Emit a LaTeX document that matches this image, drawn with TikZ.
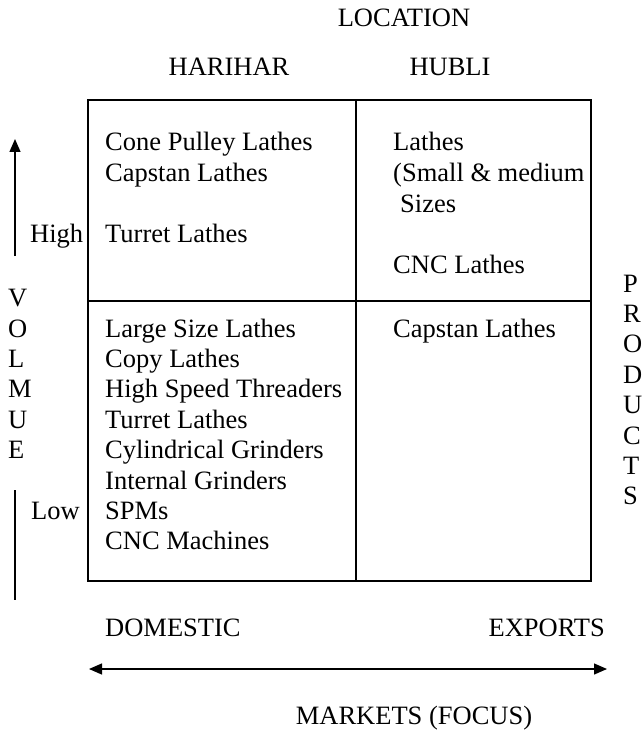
\documentclass[tikz,border=0pt]{standalone}
\usepackage{fontspec}
\setmainfont{Liberation Serif}
\usetikzlibrary{arrows.meta}
\begin{document}
\begin{tikzpicture}[x=1pt,y=-1pt,
  txt/.style={anchor=base west,inner sep=0pt,font=\fontsize{26.5}{30.4}\selectfont},
  ctxt/.style={anchor=base,inner sep=0pt,font=\fontsize{26.5}{30.4}\selectfont},
  rtxt/.style={anchor=base east,inner sep=0pt,font=\fontsize{26.5}{30.4}\selectfont},
  frame/.style={line width=1.6pt},
  axis/.style={line width=1.3pt},
  tip/.style={-{Triangle[length=13pt,width=11pt]}}]
\useasboundingbox (0,0) rectangle (641,730);
% matrix frame
\coordinate (tl) at (88,100);
\coordinate (br) at (591,581);
\draw[frame] (tl) rectangle (br);
\coordinate (vt) at (356,100);
\coordinate (vb) at (356,581);
\coordinate (hl) at (88,301);
\coordinate (hr) at (591,301);
\draw[frame] (vt) -- (vb);
\draw[frame] (hl) -- (hr);
% headings
\node[ctxt] (loc) at (404,27) {LOCATION};
\node[ctxt] (har) at (229,76) {HARIHAR};
\node[ctxt] (hub) at (450,76) {HUBLI};
% upper left
\node[txt] (ul1) at (105,151) {Cone Pulley Lathes};
\node[txt] (ul2) at (105,181.5) {Capstan Lathes};
\node[txt] (ul3) at (105,242.5) {Turret Lathes};
% upper right
\node[txt] (ur1) at (393,151) {Lathes};
\node[txt] (ur2) at (393,181.5) {(Small \& medium};
\node[txt] (ur3) at (400,212) {Sizes};
\node[txt] (ur4) at (393,273) {CNC Lathes};
% lower left
\foreach \t [count=\i from 0] in {Large Size Lathes,Copy Lathes,High Speed Threaders,Turret Lathes,Cylindrical Grinders,Internal Grinders,SPMs,CNC Machines}
  \node[txt] (ll\i) at (105,337+30.4*\i) {\t};
% lower right
\node[txt] (lr1) at (393,337) {Capstan Lathes};
% volume axis
\foreach \t [count=\i from 0] in {V,O,L,M,U,E}
  \node[txt] (vol\i) at (8,306.6+30.4*\i) {\t};
\node[txt] (high) at (30,242.5) {High};
\node[txt] (low) at (31,519.4) {Low};
\coordinate (upb) at (15,256);
\coordinate (upt) at (15,139);
\draw[axis,tip] (upb) -- (upt);
\coordinate (lowt) at (15,490);
\coordinate (lowb) at (15,600);
\draw[axis] (lowt) -- (lowb);
% products
\foreach \t [count=\i from 0] in {P,R,O,D,U,C,T,S}
  \node[txt] (prod\i) at (623,292+30.4*\i) {\t};
% markets
\node[txt] (dom) at (105,636) {DOMESTIC};
\node[rtxt] (exp) at (605,636) {EXPORTS};
\coordinate (ml) at (89,669);
\coordinate (mr) at (607,669);
\draw[axis,{Triangle[length=13pt,width=11pt]}-{Triangle[length=13pt,width=11pt]}] (ml) -- (mr);
\node[ctxt] (mkt) at (414,724) {MARKETS (FOCUS)};
\end{tikzpicture}
\end{document}
